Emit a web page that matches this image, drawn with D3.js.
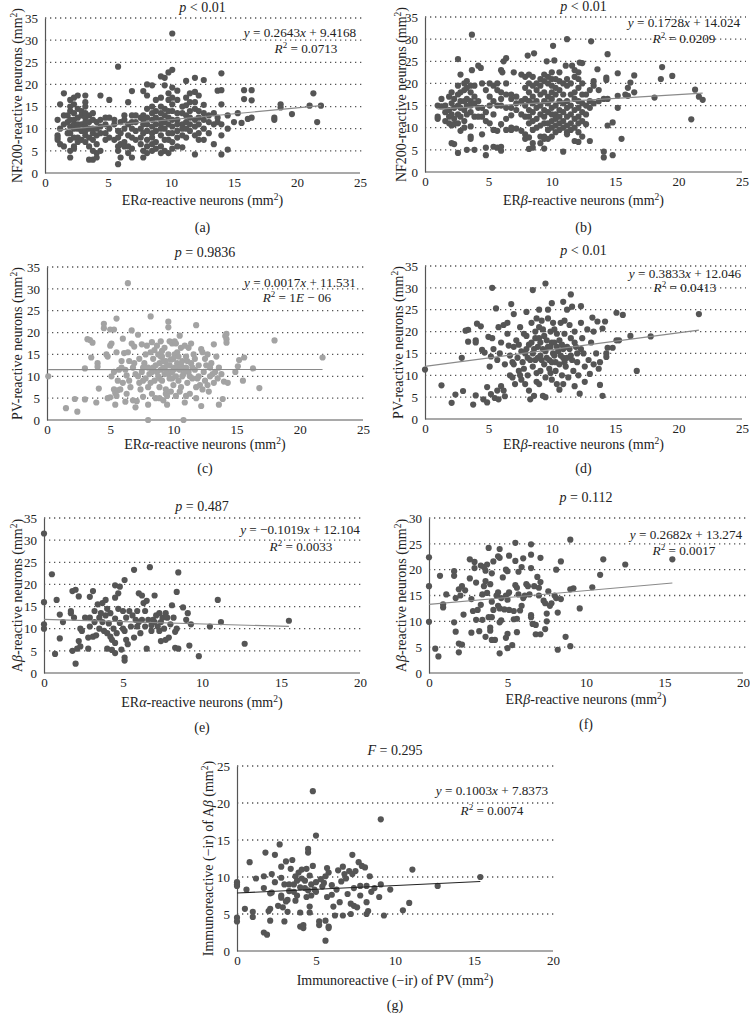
<!DOCTYPE html>
<html><head><meta charset="utf-8">
<script src="https://cdn.jsdelivr.net/npm/d3@7"></script>
<style>body{margin:0;background:#fff}svg{display:block}</style>
</head><body>
<svg id="c" width="750" height="1025"></svg>
<script>
// ---- data: each entry is [x, [y values at that x]] ----
const aPts = [[1.0,[12,8.5,8,7.5]],[1.2,[15.5,6.5,10]],[1.5,[18,13,6,11]],[1.8,[13,9,11.5]],
[2.0,[16.5,15,14,12,10.5,9,5,3.5,7.5]],[2.3,[17,15.5,13.5,12,11,10,8,6,5.5]],[2.6,[17.5,14.5,12.5,11,10,8,7]],
[2.9,[14,13,11,9.5,7.5]],[3.2,[17.5,16,15,13.5,12.5,11.5,10.5,9.5,8.5,7]],[3.5,[13,11.5,10,8,6,3]],
[3.8,[13.5,12,10,9,7.5,5,3]],[4.1,[11.5,10,8.5,6.5,4.5,3.5]],[4.4,[17.5,12,10.5,9,5]],[4.8,[12.5,11,9,7.5]],
[5.1,[16.5,12.5,10,8]],[5.5,[12,11,7.5]],[5.8,[24,9.5,8,6,5,2]],[6.0,[11.5,9,6.5,3.5]],[6.3,[13,12,10,7,6]],
[6.6,[16,11,8.5,6,4.5]],[6.9,[18.5,13,11.5,10,8,5.5,3.5]],[7.2,[13,11.5,9.5,7.5]],[7.6,[12.5,10,8,6.5]],
[7.8,[18.5,13,12,11,9,5,3.5]],[8.1,[20,17.5,14.5,12.5,11,9.5,7.5,6,4.5]],[8.5,[19.8,15,13.5,12,10.5,9,8,6.5,5]],
[8.8,[16.5,14,12.5,11,9.5,7,5.5]],[9.2,[21.8,17,15,13.5,12,11,10,8.5,6,4.5]],[9.5,[21.5,19.8,14.5,13,11.5,10,7.5,5]],
[9.8,[22.7,18,16.5,14,12.5,11,9,7.5,4.5]],[10.1,[31.5,23.3,19.3,17,15.5,14,12,10.5,9,7,5.5]],
[10.5,[18.6,16.5,13.5,12,11,9.5,8,6]],[10.9,[15,13.5,11,10,8.5,5.8]],[11.2,[20.8,17,15.3,13,11.5,10,8]],
[11.5,[18,16,14,12.5,11,9.5]],[11.9,[21.5,18.3,16,14.5,12,10.5,8.5,4.2]],[12.2,[17.5,14,12.5,11,9,7.5]],
[12.6,[21,15.4,13.5,12,10,7.5]],[13.0,[13,11.5,9]],[13.4,[13.5,11,6.5]],[13.7,[18.6,12.5,11.5]],
[14.0,[22.5,18.7,15.5,11,8.5,4.2]],[14.5,[13,10,5.3]],[15.0,[11.5]],[15.3,[13.5]],[15.6,[11.3]],
[15.8,[18.7,16.7]],[16.1,[12.2]],[16.4,[18.7,16.4,12.5]],[18.2,[12.5,12]],[18.7,[15.5,14.8]],[19.6,[13.3]],
[21.0,[15.2]],[21.3,[18]],[21.6,[11.5]],[21.9,[15.2]]];

const bPts = [[1.0,[15,12.5,12]],[1.3,[16.5,14.8]],[1.6,[15,13.5,11.5]],[1.9,[17,14,12.5,11]],
[2.1,[18,15.5,13,10.5,6.5]],[2.3,[16.5,14.5,12,10.8,6.3]],[2.6,[25.5,19.5,17.5,15,13,11,4.3]],
[2.8,[22,18,16,14.5,12.5,9.3]],[3.1,[20,18.5,16,14,11.5,10]],[3.3,[20.5,19,16.5,15,13,5]],
[3.6,[19.5,18,16,15,13.5,10.3,8,7.5]],[3.7,[31,23]],[3.9,[19.5,17,15.5,12.5,5]],[4.2,[24,16,14.5,12.5]],
[4.4,[23.5]],[4.5,[20,14.5,12.5,8.5]],[4.8,[18.5,13.5,11.5,5.5,3.8]],[5.1,[20,17,15,11]],
[5.4,[19.5,16,13,9.5,5.7]],[5.7,[20,18.5,15,9.3,5.5]],[6.0,[23,18,16.5,15,10.8,5.7,4.8]],[6.1,[22.5]],
[6.2,[25]],[6.4,[25.7,20,17.5,14.5,12,9.5]],[6.8,[17.5,16.5,14.5,12.8,10,9.5]],[7.0,[22.5]],
[7.2,[17,15.5,14,9.8]],[7.6,[22,16,13,9.3]],[7.9,[21.5,19,16.5,15,12.5,8.5,7.5]],[8.1,[26.3]],
[8.2,[22,20,18,16,14,12.5,11,7.8,5.2]],[8.5,[21.5,19.5,17,15.5,13.5,11.5,9.5,6.5,5.5]],[8.6,[26.8]],
[8.8,[20,18.5,16,14.5,12,10]],[9.1,[21,19.5,17.5,15,13,10.5,8,6.5]],[9.4,[22,20.5,18,16,14,12.5,11,8,7.5,5.3]],
[9.6,[25]],[9.7,[21.5,20,17,15.5,13.5,11,9.5,7.5]],[10.0,[22.5,21,19.5,18,16.5,14.5,13,11.5,10,8]],
[10.1,[28.5]],[10.2,[25.2]],[10.3,[21,19,17.5,15,13,12,10.5,9]],[10.6,[22.5,20.5,18.5,16,14,12.5,11,9.5]],
[10.9,[20,17.5,15.5,13.5,11.5,10,4.6]],[11.1,[24]],[11.2,[30,21,19.5,16,14.5,12.5,10.5,9,8.5]],
[11.5,[20,17.5,15,13,11,9.5]],[11.6,[24]],[11.8,[23,21.5,18,16.5,14,12,10,7]],
[12.1,[22.5,21,19,16,14.5,12.5,11,9,6.8]],[12.2,[24.7]],[12.4,[24.6,20,17.5,15.5,13.5,11.5,8]],
[12.7,[17.5,15,13,10.8]],[13.0,[18.5,16,14.5,7]],[13.1,[29.5]],[13.3,[20.5,19.5,15.5]],[13.6,[23.2]],
[13.7,[18.5,16]],[14.1,[16.5,4.6,3.3]],[14.3,[21.3,20.8]],[14.4,[26.6,16.5,10.5]],[14.8,[11.2,3.8]],
[15.2,[22.3,17.2,14.5]],[15.5,[7.5]],[15.8,[17.5]],[16.0,[19,17.2]],[16.2,[20.2]],[16.5,[21.8,18]],
[18.1,[16.8]],[18.6,[21]],[18.7,[23.7]],[19.5,[21.7]],[21.0,[11.9]],[21.3,[18.6]],[21.6,[17]],[21.9,[16.3]]];

const cPts = [[0.1,[10]],[1.5,[2.7]],[2.2,[4.8]],[2.4,[1.9]],[3.0,[11.8,4.7]],[3.2,[18.5]],[3.4,[18.3]],
[3.5,[14.3]],[3.6,[17.7]],[3.9,[4.0]],[4.0,[13,12.2]],[4.1,[7.2]],[4.5,[22,21]],[4.7,[15]],[4.8,[14.5,5]],
[5.0,[20.7,17,5.2]],[5.1,[17.5,10]],[5.3,[20.7,11,7]],[5.4,[6.2,3.5]],[5.5,[23.2,15.5,5.5]],[5.6,[6.8,9]],
[5.7,[11.5]],[5.8,[7]],[5.9,[13.5,12]],[6.0,[18.6,8.5]],[6.1,[15.3]],[6.2,[11.5,4.2]],[6.3,[10.2,6]],
[6.4,[31.3,15.5]],[6.5,[13.5,9]],[6.6,[7.5]],[6.7,[20.5,17.5]],[6.8,[12,4.5]],[6.9,[16.8,13]],[7.0,[10.5,2.9]],
[7.1,[4.3]],[7.2,[19.5,10]],[7.3,[14,8.5]],[7.4,[7]],[7.5,[11,17.3]],[7.6,[5.3,12,9]],[7.7,[13]],
[7.8,[9.5,15]],[7.9,[17]],[8.0,[12,7.5,3.5,0]],[8.1,[10.5]],[8.2,[23.7,15.5,8.5]],[8.3,[11,6,17.8]],
[8.4,[14,12]],[8.5,[9,16]],[8.6,[12.5,5]],[8.7,[17,11]],[8.8,[10,15]],[8.9,[13,7.5,9.5,5]],[9.0,[11.5,18,14.5]],
[9.1,[14.5,9,15.8]],[9.2,[12,4.5,13.5]],[9.3,[16.5,10.5,11.8]],[9.4,[13.5,7,6]],[9.5,[11,3.5,12.5,5.5]],
[9.6,[22.5,21.2,15,10.5]],[9.7,[9.5,12.5,18]],[9.8,[6.5,13.8]],[9.9,[17.5,11,9.5]],[10.0,[14,8,11.5]],
[10.1,[18,12,15]],[10.2,[10,5.5,17.5]],[10.3,[15.5,13,11.8]],[10.4,[9,14.5]],[10.5,[19.3,11.5,6.5]],
[10.6,[16.5,7.5,12.5]],[10.7,[13.5,10]],[10.8,[0,10.5]],[10.9,[4,11.5,17]],[11.0,[14.5,12,5.5]],
[11.1,[8.5,13.5]],[11.2,[16.5,11]],[11.3,[6,10]],[11.4,[13,17.5]],[11.5,[9.5,12]],[11.6,[15]],
[11.7,[11.5,14]],[11.8,[21.7,7.5,5]],[11.9,[9.5]],[12.0,[12.5,10]],[12.1,[8]],[12.2,[16.2,3.2]],
[12.3,[15.5,7]],[12.4,[11]],[12.5,[9,14]],[12.6,[12.5]],[12.7,[15,8]],[12.8,[6.5]],[12.9,[10,12]],
[13.0,[13]],[13.1,[10.5]],[13.2,[17.3,8.5]],[13.3,[11]],[13.4,[14.5]],[13.5,[9.5]],[13.6,[12,3.5]],
[13.8,[10.5]],[13.9,[4.8]],[14.0,[8.8]],[14.1,[19.2]],[14.2,[19.7,18.5,17.7]],[14.3,[8.5]],[14.9,[11]],
[15.1,[12.3]],[15.2,[13.7]],[15.5,[9]],[15.6,[14.3]],[16.3,[11.8]],[16.8,[7.3]],[18.0,[18.2]],[21.8,[14.3]]];

const dPts = [[0,[11.3]],[1.3,[7.7]],[2.1,[3.7]],[2.4,[5.6]],[2.9,[14]],[3.0,[6.4]],[3.2,[20.2]],
[3.4,[20.4,17.7]],[3.8,[3.3]],[4.0,[5.4,18,17.5]],[4.1,[21.8]],[4.4,[21.2]],[4.5,[15.8]],[4.6,[4.5]],
[4.7,[15.2]],[4.9,[7.3,3.8]],[5.0,[18.8]],[5.1,[12]],[5.2,[14.3,5.7]],[5.3,[30,18.5]],[5.4,[16]],[5.5,[4.8]],
[5.6,[25.3]],[5.7,[6.5,13.5]],[5.8,[21,4.5]],[5.9,[15]],[6.0,[7.5,17.5]],[6.2,[6.5,21.5]],[6.3,[5.2,12.5]],
[6.5,[19.5,22]],[6.6,[16.8]],[6.7,[10,14.5]],[6.8,[26.3]],[6.9,[9.5,13]],[7.0,[24,16.5,12.5]],[7.1,[8]],
[7.2,[18]],[7.3,[14]],[7.4,[11,17]],[7.5,[21,10]],[7.6,[15.5,9]],[7.7,[13]],[7.8,[19.5,11.5]],
[7.9,[8,15]],[8.0,[16,24.5,19]],[8.1,[14,10]],[8.2,[6.5,17]],[8.3,[4.5,13.5]],[8.4,[22,17.5]],
[8.5,[29.5,15,12]],[8.6,[5.3,16]],[8.7,[20,13.5,18.5]],[8.8,[23,10.5,8.5]],[8.9,[16.5,14]],
[9.0,[25,18.5,8,21]],[9.1,[14.5,11,17.5]],[9.2,[22.5,13.5]],[9.3,[5.3,20.5,16]],[9.4,[12.5,19]],
[9.5,[31,9.5,5,15.5]],[9.6,[18,14]],[9.7,[23,25,16.5]],[9.8,[11.5,13.5]],[9.9,[20,16.5,10.5]],
[10.0,[26.5,13,9,17.5]],[10.1,[22,15]],[10.2,[17.5,14.5,20.5]],[10.3,[11,13]],[10.4,[19.5,8,16.5]],
[10.5,[15.5]],[10.6,[12.5,6.7,18]],[10.7,[22,14.5]],[10.8,[17,10]],[10.9,[26.8,14,16,8]],
[11.0,[19.5,13,22.5]],[11.1,[12]],[11.2,[16.5,25,14]],[11.3,[9.5]],[11.4,[21.5,16]],[11.5,[28.5,18.5,14.5]],
[11.6,[25.7,13.5]],[11.7,[11]],[11.8,[20,17.5,7.5]],[11.9,[16.5]],[12.0,[13,15]],[12.1,[10]],[12.2,[5.8]],
[12.3,[25.8,22,16]],[12.4,[18.5]],[12.5,[15]],[12.6,[12,8.5]],[12.8,[20.5]],[12.9,[13.5]],[13.0,[10.3]],
[13.1,[17.5]],[13.2,[23.2]],[13.3,[20,12.5]],[13.5,[15]],[13.6,[22.3]],[13.7,[11.5]],[13.8,[7.8,13]],
[14.0,[20.7,5.3]],[14.2,[22.3]],[14.3,[15,14.2]],[14.4,[16.3]],[14.8,[16.3]],[15.1,[24.3,18]],[15.3,[18]],
[15.6,[23.8]],[16.2,[19]],[16.7,[11]],[17.8,[18.9]],[21.6,[24]]];

const ePts = [[0,[31.5,16,11,10]],[0.5,[22.3]],[0.7,[4.3]],[0.8,[16.5]],[1.0,[13.2,7.8]],[1.2,[11.5]],
[1.7,[14,13.5]],[1.8,[18.5,5]],[1.9,[12.5]],[2.0,[18.8,2.1]],[2.1,[5.5]],[2.2,[17.3,7.2]],[2.3,[6,10]],
[2.4,[9.5]],[2.6,[12.5]],[2.8,[8,5.5]],[2.9,[17.2,12.5,10.5]],[3.1,[18.5,8.2]],[3.2,[14,11.5]],[3.3,[8.5]],
[3.4,[15.5]],[3.5,[12.5,10]],[3.6,[13.5]],[3.7,[11.5,15.8]],[3.8,[9.5]],[3.9,[16.5,13]],[4.0,[14.5,9,5.5]],
[4.1,[11.2]],[4.2,[8.2,13.5]],[4.3,[7.5,5.2]],[4.4,[10]],[4.5,[19.8,17,12.3,6.8,4.5]],[4.6,[9]],
[4.7,[18,14.5]],[4.8,[19.5,11.3]],[4.9,[5.3]],[5.0,[10,14]],[5.1,[21,9.5,3.5,2.8]],[5.2,[7.5,12.5]],
[5.3,[6.5]],[5.4,[14]],[5.5,[10.5]],[5.6,[13]],[5.7,[23.3,8]],[5.8,[12]],[5.9,[14,10.5]],[6.0,[18,11.5]],
[6.1,[9]],[6.2,[17.5,12]],[6.3,[15.8]],[6.4,[14,10.5]],[6.5,[16.3,5.5]],[6.6,[12]],[6.7,[23.9]],
[6.8,[9.5,10.8]],[6.9,[12]],[7.0,[17.5,11.5]],[7.1,[13]],[7.2,[10.5]],[7.3,[13.5,9.5]],[7.4,[7.2,11.5]],
[7.5,[12.5]],[7.6,[10]],[7.7,[13.5,7.5]],[7.8,[12.5]],[7.9,[8]],[8.0,[11]],[8.1,[15.3]],[8.2,[12.5]],
[8.3,[9.3,5.7]],[8.4,[18.3,10]],[8.5,[22.7,5.5]],[8.8,[14.8]],[9.0,[12]],[9.1,[13.5]],[9.2,[6.2]],
[9.3,[11]],[9.8,[3.8]],[10.5,[10.5]],[11.0,[16.5]],[11.2,[11.5]],[12.7,[6.6]],[15.5,[11.8]]];

const fPts = [[0,[22.4,16.8,9.9]],[0.4,[4.7]],[0.6,[3.2]],[0.7,[18.8]],[0.9,[13.3,12.7]],[1.1,[15.2]],
[1.6,[19.7,18.8,9.8]],[1.7,[14.5,8]],[1.9,[16.2,5.7,4]],[2.0,[15]],[2.1,[16.8,5.5]],[2.2,[11.3]],[2.3,[16]],
[2.6,[22,18.3]],[2.7,[14.3,7.8]],[2.8,[12]],[2.9,[21.5,20.3]],[3.0,[17.5,10.3]],[3.1,[12.2]],[3.2,[8.1]],
[3.3,[20.8,13.2]],[3.4,[10.3,15.2]],[3.5,[20.5,16.8]],[3.6,[19.8,17.8,7]],[3.7,[21,15.5]],[3.8,[10.8,24.2]],
[3.9,[17.2,8.8,8.2]],[4.0,[13.8,19.3,10.8,6.4]],[4.1,[21.6,12.2]],[4.2,[6.4]],[4.3,[15]],[4.4,[22.6,13,15.6]],
[4.5,[24,22.3,12.5,9.8,3.8]],[4.6,[10.2,14.5]],[4.7,[18.5]],[4.8,[12.3]],[4.9,[20,15,6.8]],
[5.0,[19.7,14.2,4.8,7.6]],[5.1,[22.7,12.2,15.6]],[5.3,[5.4]],[5.4,[12,10.4]],[5.5,[25.2,21.7,17]],
[5.6,[16.5,10.5,7.9]],[5.7,[19.6,15.2]],[5.8,[12.1]],[5.9,[20.5,13]],[6.0,[22.2,14.5]],[6.1,[15]],
[6.2,[17.2]],[6.3,[16.8]],[6.4,[15.2]],[6.5,[24.9,22.9,20.3,11.2,10.8]],[6.6,[9.5]],[6.7,[16.8]],
[6.8,[9.3,7.5]],[6.9,[18.6]],[7.0,[15,16.5]],[7.1,[17.6,7.5,22.3]],[7.3,[14]],[7.4,[13.5,8.5]],
[7.5,[11.5,10]],[7.6,[15.8]],[7.7,[13]],[7.8,[13.5]],[8.0,[15]],[8.1,[14.5,20]],[8.2,[11.7,4.5]],
[8.4,[21.6,14.3]],[8.7,[7]],[9.0,[25.8,5.2,16.2]],[9.2,[16.4]],[9.6,[12.5]],[10.4,[16.6]],[10.9,[19]],
[11.1,[22]],[12.5,[21]],[15.5,[22]]];

const gPts = [[0,[9.3,9,8.8,4.5,4]],[0.5,[5.7]],[0.6,[8.3]],[0.8,[12]],[1.0,[5.3,4.6]],[1.2,[9.8]],
[1.7,[10.1,8.5,2.5]],[1.8,[13.3]],[1.9,[2.2]],[2.0,[5.4]],[2.1,[7.8,4.1,5.7]],[2.2,[10.4,7.9]],[2.4,[13,9.3]],
[2.6,[6.1]],[2.7,[14.4]],[2.8,[11.4,9.9,7.5,7.2]],[2.9,[5.9]],[3.0,[4,9]],[3.1,[12.1,6.7]],[3.2,[6.9,5.3]],
[3.3,[9,8.1]],[3.4,[11.1]],[3.5,[12.3]],[3.6,[9,8]],[3.7,[6.8,10.1]],[3.8,[9.5,7.5]],[3.9,[10.6]],
[4.0,[8.6,5.2,3.3]],[4.1,[11,9.8]],[4.2,[3.5,3.1]],[4.3,[9.5,8.5]],[4.4,[7.3,11.1]],[4.5,[13.8,13.3,8.2]],
[4.6,[10.2,6,5.2]],[4.7,[9,7.5]],[4.8,[21.6,11.5]],[4.9,[8.3]],[5.0,[15.6,9.3,8]],[5.2,[4,3.5]],[5.3,[9.7]],
[5.4,[8.7]],[5.5,[9.2]],[5.6,[10.1,4.1,1.4]],[5.7,[7.3,11.2]],[5.8,[10.6,3.3,3.1]],[6.0,[8.9,7.6]],[6.1,[6]],
[6.2,[4.8]],[6.3,[8.3]],[6.4,[10.9]],[6.5,[6.6]],[6.6,[9.4]],[6.7,[11.4,4.8]],[6.8,[10.4]],[6.9,[9.8]],
[7.0,[7.7]],[7.1,[10.8]],[7.2,[6.4,5]],[7.3,[10.4,13]],[7.4,[8.5,6.1]],[7.5,[10.8]],[7.6,[5.9]],[7.7,[12]],
[7.8,[8.8,7.5]],[7.9,[11.5]],[8.1,[11.3]],[8.2,[8.8,6.6,5]],[8.3,[5.4]],[8.4,[10.1]],[8.5,[8]],[8.7,[8.5]],
[9.0,[7.3]],[9.1,[17.8,9]],[9.3,[4.8]],[9.7,[8.3]],[10.5,[5.5]],[10.9,[6.5]],[11.1,[11]],[12.7,[8.8]],[15.4,[10]]];

// fitted trend lines
const slopes = [0.2643, 0.1728, 0.0017, 0.3833, -0.1019, 0.2682, 0.1003];
const intercepts = [9.4168, 14.024, 11.531, 12.046, 12.104, 13.274, 7.8373];
// texts (_x_ = italic, ^x^ = superscript)
const titles = ["_p_ < 0.01", "_p_ < 0.01", "_p_ = 0.9836", "_p_ < 0.01", "_p_ = 0.487", "_p_ = 0.112", "_F_ = 0.295"];
const eqTexts = ["_y_ = 0.2643_x_ + 9.4168", "_y_ = 0.1728_x_ + 14.024", "_y_ = 0.0017_x_ + 11.531",
  "_y_ = 0.3833_x_ + 12.046", "_y_ = \u22120.1019_x_ + 12.104", "_y_ = 0.2682_x_ + 13.274", "_y_ = 0.1003_x_ + 7.8373"];
const r2Texts = ["_R_^2^ = 0.0713", "_R_^2^ = 0.0209", "_R_^2^ = 1_E_ \u2212 06", "_R_^2^ = 0.0413",
  "_R_^2^ = 0.0033", "_R_^2^ = 0.0017", "_R_^2^ = 0.0074"];
const xLabels = ["ER_\u03b1_-reactive neurons (mm^2^)", "ER_\u03b2_-reactive neurons (mm^2^)",
  "ER_\u03b1_-reactive neurons (mm^2^)", "ER_\u03b2_-reactive neurons (mm^2^)",
  "ER_\u03b1_-reactive neurons (mm^2^)", "ER_\u03b2_-reactive neurons (mm^2^)", "Immunoreactive (\u2212ir) of PV (mm^2^)"];
const yLabels = ["NF200-reactive neurons (mm^2^)", "NF200-reactive neurons (mm^2^)", "PV-reactive neurons (mm^2^)",
  "PV-reactive neurons (mm^2^)", "A_\u03b2_-reactive neurons (mm^2^)", "A_\u03b2_-reactive neurons (mm^2^)",
  "Immunoreactive (\u2212ir) of A_\u03b2_ (mm^2^)"];
const panelTags = ["(a)", "(b)", "(c)", "(d)", "(e)", "(f)", "(g)"];
const xMaxes = [25, 25, 25, 25, 20, 20, 20];
const yMaxes = [35, 35, 35, 35, 35, 30, 25];

// ---- layout ----
const layout = [
  {x0:45,x1:360,yT:18,yB:173,tY:12,xlY:205,tagY:232,ylX:22,eq:[300,37],r2:[306,53]},
  {x0:425,x1:742,yT:17,yB:172,tY:11,xlY:205,tagY:232,ylX:406,eq:[684,27],r2:[684,43]},
  {x0:47,x1:363,yT:267,yB:420,tY:257,xlY:449,tagY:473,ylX:22,eq:[300,287],r2:[297,302]},
  {x0:425,x1:742,yT:266,yB:419,tY:255,xlY:449,tagY:473,ylX:403,eq:[685,278],r2:[685,292]},
  {x0:44,x1:360,yT:518,yB:673,tY:511,xlY:707,tagY:732,ylX:22,eq:[300,534],r2:[301,551]},
  {x0:429,x1:743,yT:518,yB:673,tY:502,xlY:704,tagY:729,ylX:406,eq:[686,539],r2:[684,555]},
  {x0:237,x1:553,yT:766,yB:951,tY:755,xlY:985,tagY:1010,ylX:213,eq:[492,795],r2:[492,815]}
];
const allPts = [aPts, bPts, cPts, dPts, ePts, fPts, gPts];
const dotColors = ["#555","#555","#a3a3a3","#555","#555","#555","#555"];
const lineColors = ["#8a8a8a","#8a8a8a","#8a8a8a","#8a8a8a","#8a8a8a","#8a8a8a","#222"];

const svg = d3.select("#c");
const FONT = "'Liberation Serif','Times New Roman',serif";

function rich(sel, str, size) {
  const parts = str.split(/(_[^_]+_|\^[^^]+\^)/).filter(s => s.length);
  let shifted = false;
  parts.forEach(p => {
    const t = sel.append("tspan");
    if (p.startsWith("_")) { t.text(p.slice(1,-1)).attr("font-style","italic"); if (shifted){t.attr("dy",5);shifted=false;} }
    else if (p.startsWith("^")) { t.text(p.slice(1,-1)).attr("font-size", size*0.68).attr("dy",-5); shifted=true; }
    else { t.text(p); if (shifted){t.attr("dy",5);shifted=false;} }
  });
}

allPts.forEach((grp, i) => {
  const L = layout[i];
  const pts = grp.flatMap(([x, ys]) => ys.map(y => ({x, y})));
  const xs = d3.scaleLinear().domain([0, xMaxes[i]]).range([L.x0, L.x1]);
  const ys = d3.scaleLinear().domain([0, yMaxes[i]]).range([L.yB, L.yT]);
  const g = svg.append("g");

  // gridlines
  const yt = d3.range(5, yMaxes[i] + 0.1, 5);
  g.selectAll(".grid").data(yt).join("line")
    .attr("x1", L.x0).attr("x2", L.x1 + 4)
    .attr("y1", d => ys(d)).attr("y2", d => ys(d))
    .attr("stroke", "#555").attr("stroke-width", 1.3).attr("stroke-dasharray", "1.3,3.7");

  // axes
  const xAx = d3.axisBottom(xs).tickValues(d3.range(0, xMaxes[i] + 0.1, 5)).tickSize(0).tickPadding(5);
  const yAx = d3.axisLeft(ys).tickValues(d3.range(0, yMaxes[i] + 0.1, 5)).tickSize(0).tickPadding(7);
  const gx = g.append("g").attr("transform", `translate(0,${L.yB})`).call(xAx);
  const gy = g.append("g").attr("transform", `translate(${L.x0},0)`).call(yAx);
  [gx, gy].forEach(a => {
    a.select(".domain").attr("stroke", "#555").attr("stroke-width", 1.2);
    a.selectAll("text").attr("font-family", FONT).attr("font-size", 13).attr("fill", "#222");
  });
  gx.select(".domain").attr("d", `M${L.x0},0H${L.x1}`);

  // points
  g.selectAll("circle").data(pts).join("circle")
    .attr("cx", d => xs(d.x)).attr("cy", d => ys(d.y)).attr("r", 3.1)
    .attr("fill", dotColors[i]);

  // trend line
  const ext = d3.extent(pts, d => d.x);
  g.append("line")
    .attr("x1", xs(ext[0])).attr("x2", xs(ext[1]))
    .attr("y1", ys(slopes[i] * ext[0] + intercepts[i])).attr("y2", ys(slopes[i] * ext[1] + intercepts[i]))
    .attr("stroke", lineColors[i]).attr("stroke-width", 1.1);

  const txt = (x, y, s, size, rot) => {
    const t = g.append("text").attr("x", x).attr("y", y).attr("text-anchor", "middle")
      .attr("font-family", FONT).attr("font-size", size).attr("fill", "#222");
    if (rot) t.attr("transform", `rotate(-90,${x},${y})`);
    rich(t, s, size);
    return t;
  };
  const cx = (L.x0 + L.x1) / 2;
  txt(cx, L.tY, titles[i], 14);
  txt(cx, L.xlY, xLabels[i], 14);
  txt(cx, L.tagY, panelTags[i], 14);
  txt(L.ylX, (L.yT + L.yB) / 2, yLabels[i], 14, true);
  txt(L.eq[0], L.eq[1], eqTexts[i], 13.2);
  txt(L.r2[0], L.r2[1], r2Texts[i], 13.2);
});
</script>
</body></html>
